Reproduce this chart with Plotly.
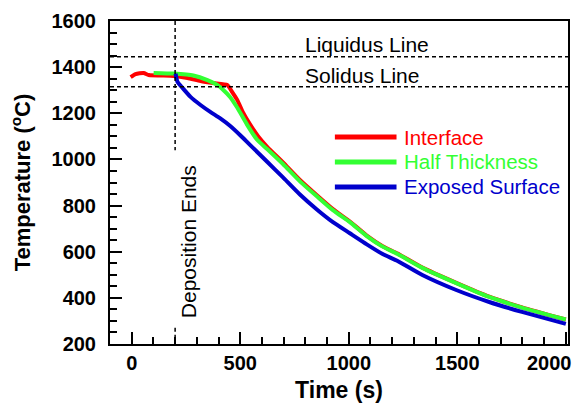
import plotly.graph_objects as go

# ---- data ----
interface_t = [-5, 18, 55, 78, 193, 257, 317, 376, 440, 463, 486, 514, 560, 583, 624, 697, 775, 853, 927, 1005, 1083, 1156, 1225, 1339, 1495, 1647, 1798, 2000]
interface_T = [1357, 1370, 1375, 1366, 1362, 1353, 1340, 1331, 1323, 1292, 1258, 1201, 1130, 1100, 1055, 987, 911, 845, 785, 731, 670, 624, 592, 531, 465, 405, 359, 306]

half_t = [101, 193, 284, 349, 394, 422, 454, 486, 532, 578, 624, 697, 775, 853, 927, 1005, 1083, 1156, 1225, 1339, 1495, 1647, 1798, 2000]
half_T = [1375, 1372, 1364, 1344, 1323, 1301, 1270, 1225, 1150, 1085, 1045, 980, 905, 840, 780, 728, 668, 622, 590, 530, 464, 404, 358, 306]

exposed_t = [202, 211, 234, 271, 317, 362, 408, 454, 500, 546, 624, 697, 775, 853, 927, 1005, 1083, 1156, 1225, 1339, 1495, 1647, 1798, 2000]
exposed_T = [1372, 1336, 1310, 1271, 1236, 1206, 1178, 1145, 1105, 1062, 990, 922, 848, 783, 728, 680, 632, 590, 560, 499, 434, 382, 339, 287]

series_names = ["Interface", "Half Thickness", "Exposed Surface"]
series_colors = ["#ff0000", "#33ff33", "#0000cc"]

LIQUIDUS = 1445
SOLIDUS = 1315
DEPOSITION_END = 200
x_ticks = [0, 500, 1000, 1500, 2000]
x_ticktext = ["0", "500", "1000", "1500", "2000" + "\u00a0" * 6]
y_ticks = [200, 400, 600, 800, 1000, 1200, 1400, 1600]

FONT = "Liberation Sans, Arial, sans-serif"

fig = go.Figure()
for t, T, name, col in zip([interface_t, half_t, exposed_t],
                           [interface_T, half_T, exposed_T],
                           series_names, series_colors):
    fig.add_trace(go.Scatter(x=t, y=T, mode="lines", name=name,
                             line=dict(color=col, width=4, shape="spline", smoothing=0.5),
                             showlegend=False))

# reference lines
dash = dict(color="black", width=1.5, dash="4px,3px")
for yv in (LIQUIDUS, SOLIDUS):
    fig.add_shape(type="line", xref="paper", x0=0, x1=1, yref="y", y0=yv, y1=yv, line=dash)
fig.add_shape(type="line", xref="x", x0=DEPOSITION_END, x1=DEPOSITION_END, yref="y", y0=1600, y1=1040, line=dash)
fig.add_shape(type="line", xref="x", x0=DEPOSITION_END, x1=DEPOSITION_END, yref="y", y0=270, y1=200, line=dash)

fig.add_annotation(x=1083, y=LIQUIDUS + 55, text="Liquidus Line", showarrow=False,
                   font=dict(family=FONT, size=21, color="black"))
fig.add_annotation(x=1060, y=SOLIDUS + 50, text="Solidus Line", showarrow=False,
                   font=dict(family=FONT, size=21, color="black"))
fig.add_annotation(x=DEPOSITION_END + 60, y=642, text="Deposition Ends", showarrow=False,
                   textangle=-90, font=dict(family=FONT, size=21, color="black"))

# custom legend
leg_y = [1097, 989, 881]
for name, col, yy in zip(series_names, series_colors, leg_y):
    fig.add_shape(type="line", xref="x", yref="y", x0=936, x1=1220, y0=yy, y1=yy,
                  line=dict(color=col, width=5))
    fig.add_annotation(x=1245, y=yy, text=name, showarrow=False, xanchor="left",
                       font=dict(family=FONT, size=20.5, color=col))

fig.update_layout(
    width=573, height=404,
    margin=dict(l=110, r=5, t=21, b=60),
    paper_bgcolor="white", plot_bgcolor="white",
    font=dict(family=FONT, color="black"),
)
fig.update_xaxes(
    range=[-100, 2010], tickvals=x_ticks, ticktext=x_ticktext, ticks="inside", ticklen=12, tickwidth=1.5,
    tickcolor="black", showline=True, linecolor="black", linewidth=2, mirror=True,
    showgrid=False, zeroline=False, automargin=False, ticklabeloverflow="allow",
    minor=dict(dtick=100, tick0=0, ticks="inside", ticklen=7, tickwidth=1.5, tickcolor="black", showgrid=False),
    tickfont=dict(family=FONT, size=20, color="black", weight="bold"),
    title=dict(text="<b>Time (s)</b>", font=dict(family=FONT, size=23, color="black"), standoff=9),
)
fig.update_yaxes(
    range=[200, 1600], tickvals=y_ticks, ticks="inside", ticklen=12, tickwidth=1.5,
    tickcolor="black", showline=True, linecolor="black", linewidth=2, mirror=True,
    showgrid=False, zeroline=False, automargin=False, ticklabelstandoff=8,
    minor=dict(dtick=50, tick0=0, ticks="inside", ticklen=7, tickwidth=1.5, tickcolor="black", showgrid=False),
    tickfont=dict(family=FONT, size=20, color="black", weight="bold"),
    title=dict(text="<b>Temperature (<sup>o</sup>C)</b>", font=dict(family=FONT, size=22, color="black"), standoff=15),
)

fig.write_html("out.html", config={"displayModeBar": False},
               post_script="document.body.style.margin='0';document.body.style.padding='0';document.body.style.overflow='hidden';")
